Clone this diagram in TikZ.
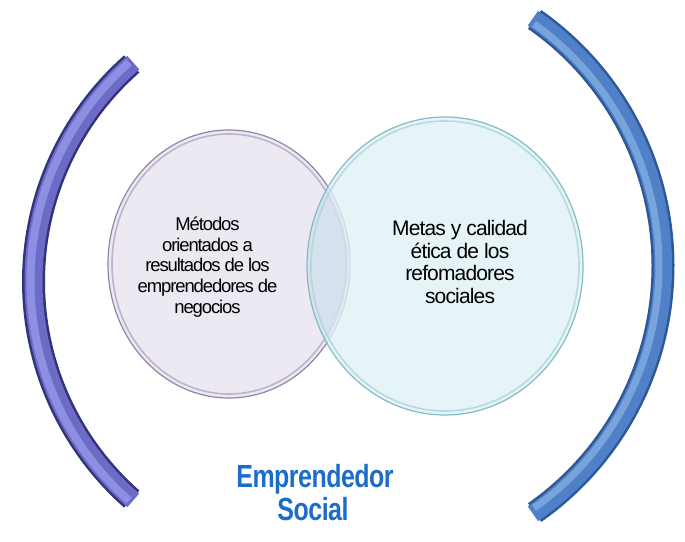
\documentclass[tikz,border=0pt]{standalone}
\usepackage{fontspec}
\setmainfont{Liberation Sans}
\definecolor{arcLdark}{HTML}{33337A}
\definecolor{arcLmid}{HTML}{6C6CC6}
\definecolor{arcLhi}{HTML}{8E8EE2}
\definecolor{arcRdark}{HTML}{2E5896}
\definecolor{arcRmid}{HTML}{4F80C8}
\definecolor{arcRhi}{HTML}{78A4DC}
\definecolor{circLfill}{HTML}{EDE9F2}
\definecolor{circLrim}{HTML}{8E86A6}
\definecolor{circLrim2}{HTML}{BDB3CF}
\definecolor{circRfill}{HTML}{E1F2F5}
\definecolor{circRrim}{HTML}{78B6C0}
\definecolor{circRrim2}{HTML}{A8D5DC}
\definecolor{overlap}{HTML}{C4D2E6}
\definecolor{titleblue}{HTML}{1C6DC9}
\tikzset{
  circtext/.style={align=center, inner sep=0pt, text=black},
  titletext/.style={inner sep=0pt, anchor=base, text=titleblue,
    font=\fontsize{32}{32}\selectfont\bfseries\addfontfeature{LetterSpace=-2}}
}
\begin{document}
\begin{tikzpicture}[x=1pt,y=-1pt]
\useasboundingbox (0,0) rectangle (685,541);
\fill[white] (0,0) rectangle (685,541);

% arc centres
\coordinate (cL) at (323.5,281.5);
\coordinate (cR) at (362,266);

% left arc
\draw[arcLdark, line width=23pt] (cL) ++(131.4:290pt) arc[start angle=131.4, end angle=228.6, radius=290pt];
\draw[arcLmid, line width=18pt] (cL) ++(131.0:290pt) arc[start angle=131.0, end angle=229.0, radius=290pt];
\draw[arcLhi, line width=8pt] (cL) ++(131.6:293pt) arc[start angle=131.6, end angle=228.4, radius=293pt];

% right arc
\draw[arcRdark, line width=23pt] (cR) ++(-55:301pt) arc[start angle=-55, end angle=55, radius=301pt];
\draw[arcRmid, line width=18pt] (cR) ++(-55.4:301pt) arc[start angle=-55.4, end angle=55.4, radius=301pt];
\draw[arcRhi, line width=7pt] (cR) ++(-54.6:297pt) arc[start angle=-54.6, end angle=54.6, radius=297pt];

% left circle
\fill[circLfill] (229,264) ellipse[x radius=121pt, y radius=134pt];
\draw[circLrim, line width=1.2pt] (229,264) ellipse[x radius=121pt, y radius=134pt];
\draw[circLrim2, line width=1.6pt] (229,264) ellipse[x radius=117pt, y radius=130pt];

% right circle
\fill[circRfill, opacity=0.78] (445,266) ellipse[x radius=138pt, y radius=149pt];
\begin{scope}
  \clip (229,264) ellipse[x radius=119pt, y radius=132pt];
  \fill[overlap, opacity=0.45] (445,266) ellipse[x radius=138pt, y radius=149pt];
\end{scope}
\draw[circRrim, line width=1.2pt, opacity=0.9] (445,266) ellipse[x radius=138pt, y radius=149pt];
\draw[circRrim2, line width=1.6pt, opacity=0.8] (445,266) ellipse[x radius=134pt, y radius=145pt];

% circle texts
\node[circtext, font=\fontsize{18.5}{20.7}\selectfont\addfontfeature{LetterSpace=-6}] (tL) at (207.5,267)
  {Métodos\\orientados a\\resultados de los\\emprendedores de\\negocios};
\node[circtext, font=\fontsize{21}{22.7}\selectfont\addfontfeature{LetterSpace=-4}] (tR) at (460,262)
  {Metas y calidad\\ética de los\\refomadores\\sociales};

% title
\node[titletext] (emp1) at (315,487) {\scalebox{0.78}[1]{Emprendedor}};
\node[titletext] (emp2) at (313,520) {\scalebox{0.78}[1]{Social}};
\end{tikzpicture}
\end{document}
